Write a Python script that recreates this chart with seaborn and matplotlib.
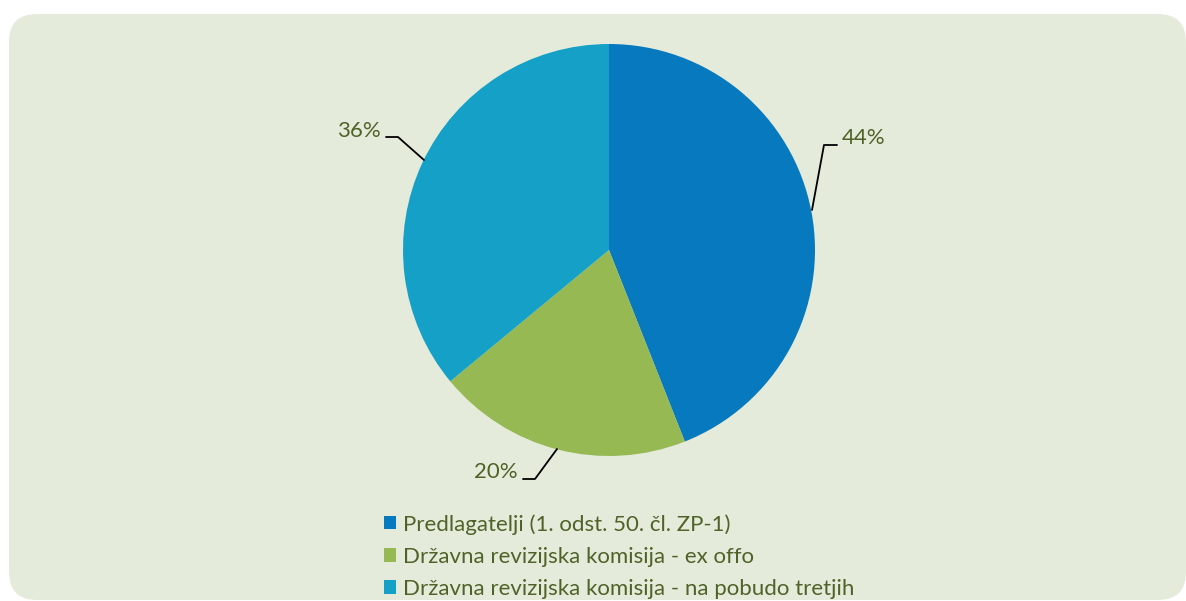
import matplotlib
matplotlib.use("Agg")
import matplotlib.pyplot as plt
from matplotlib.patches import FancyBboxPatch, Patch
import seaborn as sns

categories = [
    "Predlagatelji (1. odst. 50. čl. ZP-1)",
    "Državna revizijska komisija - ex offo",
    "Državna revizijska komisija - na pobudo tretjih",
]
shares = [44, 20, 36]
pct_labels = ["44%", "20%", "36%"]
colors = sns.color_palette(["#0779BF", "#96B953", "#15A1C7"])

TEXT = "#4F6228"
BG = "#E5EBDB"

sns.set_style("white")
plt.rcParams["font.family"] = ["Lato", "DejaVu Sans"]

W, H = 1186, 601
fig = plt.figure(figsize=(W / 100, H / 100), dpi=100)
fig.patch.set_facecolor("white")

# rounded panel behind everything
bg = FancyBboxPatch((0.09, 0.01), 11.77, 5.86,
                    boxstyle="round,pad=0,rounding_size=0.28",
                    transform=fig.dpi_scale_trans, facecolor=BG,
                    edgecolor="none", zorder=-5)
fig.patches.append(bg)

# pie axes: center (609, 250) px, radius 206 px
cx, cy, r = 609, 250, 206
ax = fig.add_axes([(cx - r) / W, (H - cy - r) / H, 2 * r / W, 2 * r / H])
ax.set_zorder(2)
ax.set_facecolor("none")
ax.pie(shares, colors=colors, startangle=90, counterclock=False, radius=1,
       wedgeprops=dict(linewidth=0))
ax.set_xlim(-1, 1)
ax.set_ylim(-1, 1)
ax.set_aspect("equal")
ax.axis("off")

def px(x, y):
    # pixel -> pie data coords
    return (x - cx) / r, (cy - y) / r

# leader lines (layout in pixels) and labels
leaders = {
    "44%": ([(812, 210), (824, 145), (837, 145)], (842, 137.5), "left"),
    "20%": ([(557, 449), (535, 479), (523, 479)], (518, 472), "right"),
    "36%": ([(424, 160), (398, 137), (386, 137)], (381, 131), "right"),
}
for lab in pct_labels:
    pts, tpos, ha = leaders[lab]
    xs, ys = zip(*[px(*p) for p in pts])
    ax.plot(xs, ys, color="black", lw=1.3, clip_on=False, zorder=5)
    tx, ty = px(*tpos)
    ax.text(tx, ty, lab, ha=ha, va="center", fontsize=16, color=TEXT)

handles = [Patch(facecolor=c, edgecolor="none") for c in colors]
leg = fig.legend(handles, categories, loc="upper left",
                 bbox_to_anchor=(384 / W, (H - 514) / H), frameon=False,
                 fontsize=16, handlelength=0.55, handleheight=0.55,
                 handletextpad=0.32, labelspacing=0.55, borderpad=0,
                 borderaxespad=0)
for t in leg.get_texts():
    t.set_color(TEXT)

fig.savefig("out.png", dpi=100, facecolor=fig.get_facecolor())
